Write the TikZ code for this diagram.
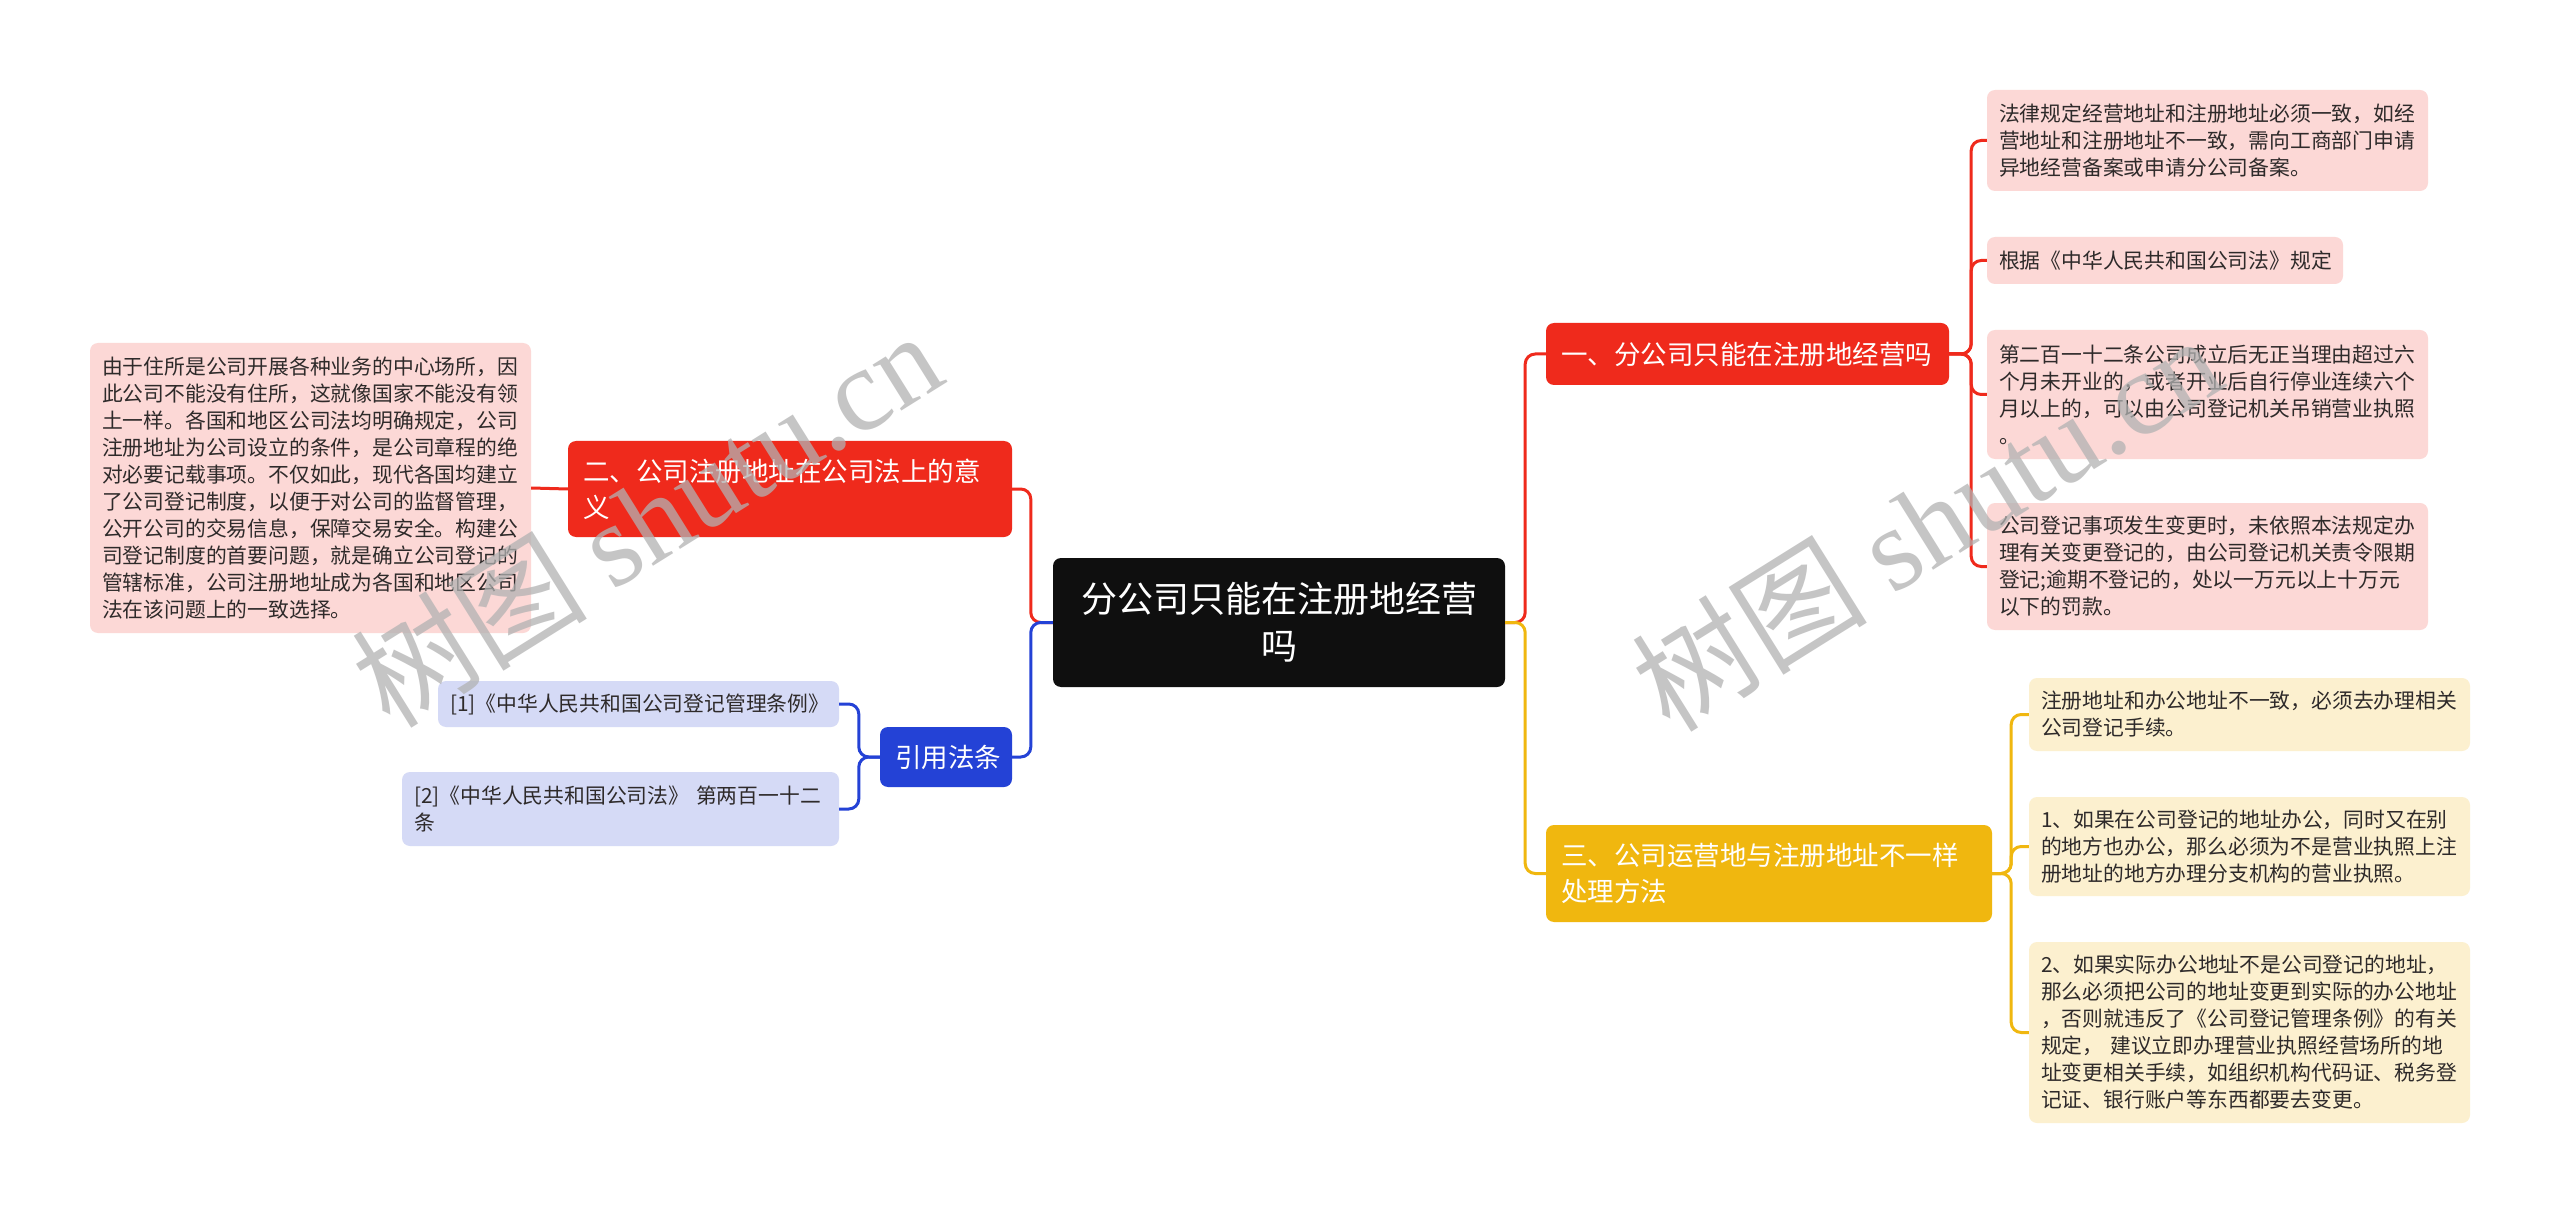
\documentclass[tikz,border=0pt]{standalone}
\usepackage{fontspec}
\setmainfont{Noto Sans CJK SC}
\newfontfamily\wmlatin{Liberation Serif}
\newfontfamily\wmcjk{Noto Sans CJK SC}
\definecolor{cred}{HTML}{EF2A1C}
\definecolor{cpink}{HTML}{FCD8D6}
\definecolor{cblue}{HTML}{2442D6}
\definecolor{clav}{HTML}{D5DAF6}
\definecolor{cyel}{HTML}{F0B70F}
\definecolor{ccream}{HTML}{FCF0CF}
\definecolor{cblack}{HTML}{0F0F0F}
\definecolor{ctext}{HTML}{2E2A2A}
\begin{document}
\begin{tikzpicture}[x=1pt,y=-1pt,
  base/.style={rounded corners=8pt, inner ysep=0pt, anchor=center},
  rootbox/.style={base, fill=cblack, text=white, align=center, inner xsep=16pt,
    font=\fontsize{36}{47}\selectfont},
  headbox/.style={base, text=white, align=left, inner xsep=15pt,
    font=\fontsize{26.5}{36}\selectfont},
  leafbox/.style={base, text=ctext, align=left, inner xsep=12pt,
    font=\fontsize{20.8}{27}\selectfont},
  conn/.style={line width=3pt, rounded corners=10pt},
  wm/.style={text=black!30, opacity=0.75, rotate=32, anchor=center, inner sep=0pt}
]
\useasboundingbox (0,0) rectangle (2560,1214);
\fill[white] (0,0) rectangle (2560,1214);

% root
\node[rootbox, minimum height=129pt, text width=420pt] (c) at (1279,622.5)
  {分公司只能在注册地经营\\吗};

% left branch: 二
\node[headbox, fill=cred, minimum height=96pt, text width=414pt] (n2) at (790,489)
  {二、公司注册地址在公司法上的意\\义};
\node[leafbox, fill=cpink, minimum height=290pt, text width=417pt] (lb) at (310.5,488)
  {由于住所是公司开展各种业务的中心场所，因\\
   此公司不能没有住所，这就像国家不能没有领\\
   土一样。各国和地区公司法均明确规定，公司\\
   注册地址为公司设立的条件，是公司章程的绝\\
   对必要记载事项。不仅如此，现代各国均建立\\
   了公司登记制度，以便于对公司的监督管理，\\
   公开公司的交易信息，保障交易安全。构建公\\
   司登记制度的首要问题，就是确立公司登记的\\
   管辖标准，公司注册地址成为各国和地区公司\\
   法在该问题上的一致选择。};

% left branch: 引用法条
\node[headbox, fill=cblue, align=center, minimum height=60pt, text width=102pt] (ref) at (946,757)
  {引用法条};
\node[leafbox, fill=clav, minimum height=46pt, text width=377pt] (r1) at (638.5,704)
  {[1]《中华人民共和国公司登记管理条例》};
\node[leafbox, fill=clav, minimum height=74pt, text width=413pt, inner xsep=12pt] (r2) at (620.5,809)
  {[2]《中华人民共和国公司法》 第两百一十二\\条};

% right branch: 一
\node[headbox, fill=cred, minimum height=62pt, text width=373pt] (n1) at (1747.5,354)
  {一、分公司只能在注册地经营吗};
\node[leafbox, fill=cpink, minimum height=101pt, text width=417pt] (l1) at (2207.5,140.5)
  {法律规定经营地址和注册地址必须一致，如经\\
   营地址和注册地址不一致，需向工商部门申请\\
   异地经营备案或申请分公司备案。};
\node[leafbox, fill=cpink, minimum height=47pt, text width=332pt] (l2) at (2165,260.5)
  {根据《中华人民共和国公司法》规定};
\node[leafbox, fill=cpink, minimum height=129pt, text width=417pt] (l3) at (2207.5,394.5)
  {第二百一十二条公司成立后无正当理由超过六\\
   个月未开业的，或者开业后自行停业连续六个\\
   月以上的，可以由公司登记机关吊销营业执照\\
   。};
\node[leafbox, fill=cpink, minimum height=127pt, text width=417pt] (l4) at (2207.5,566.5)
  {公司登记事项发生变更时，未依照本法规定办\\
   理有关变更登记的，由公司登记机关责令限期\\
   登记;逾期不登记的，处以一万元以上十万元\\
   以下的罚款。};

% right branch: 三
\node[headbox, fill=cyel, minimum height=97pt, text width=416pt] (n3) at (1769,873.5)
  {三、公司运营地与注册地址不一样\\处理方法};
\node[leafbox, fill=ccream, minimum height=73pt, text width=417pt] (y1) at (2249.5,714.5)
  {注册地址和办公地址不一致，必须去办理相关\\
   公司登记手续。};
\node[leafbox, fill=ccream, minimum height=99pt, text width=417pt] (y2) at (2249.5,846.5)
  {1、如果在公司登记的地址办公，同时又在别\\
   的地方也办公，那么必须为不是营业执照上注\\
   册地址的地方办理分支机构的营业执照。};
\node[leafbox, fill=ccream, minimum height=181pt, text width=417pt] (y3) at (2249.5,1032.5)
  {2、如果实际办公地址不是公司登记的地址，\\
   那么必须把公司的地址变更到实际的办公地址\\
   ，否则就违反了《公司登记管理条例》的有关\\
   规定， 建议立即办理营业执照经营场所的地\\
   址变更相关手续，如组织机构代码证、税务登\\
   记证、银行账户等东西都要去变更。};

% connectors
\draw[conn, cred] (c.west) -- ++(-22,0) |- (n2.east);
\draw[conn, cblue] (c.west) -- ++(-22,0) |- (ref.east);
\draw[conn, cred] (c.east) -- ++(20,0) |- (n1.west);
\draw[conn, cyel] (c.east) -- ++(20,0) |- (n3.west);
\draw[conn, cred] (n2.west) -- (lb.east);
\foreach \t in {r1,r2} \draw[conn, cblue] (ref.west) -- ++(-21,0) |- (\t.east);
\foreach \t in {l1,l2,l3,l4} \draw[conn, cred] (n1.east) -- ++(22,0) |- (\t.west);
\foreach \t in {y1,y2,y3} \draw[conn, cyel] (n3.east) -- ++(19,0) |- (\t.west);

% watermarks
\node[wm] (wm1) at (646,518) {\fontsize{118}{118}\selectfont\wmcjk 树图\ \wmlatin shutu.cn};
\node[wm] (wm2) at (1926,522) {\fontsize{118}{118}\selectfont\wmcjk 树图\ \wmlatin shutu.cn};
\end{tikzpicture}
\end{document}
